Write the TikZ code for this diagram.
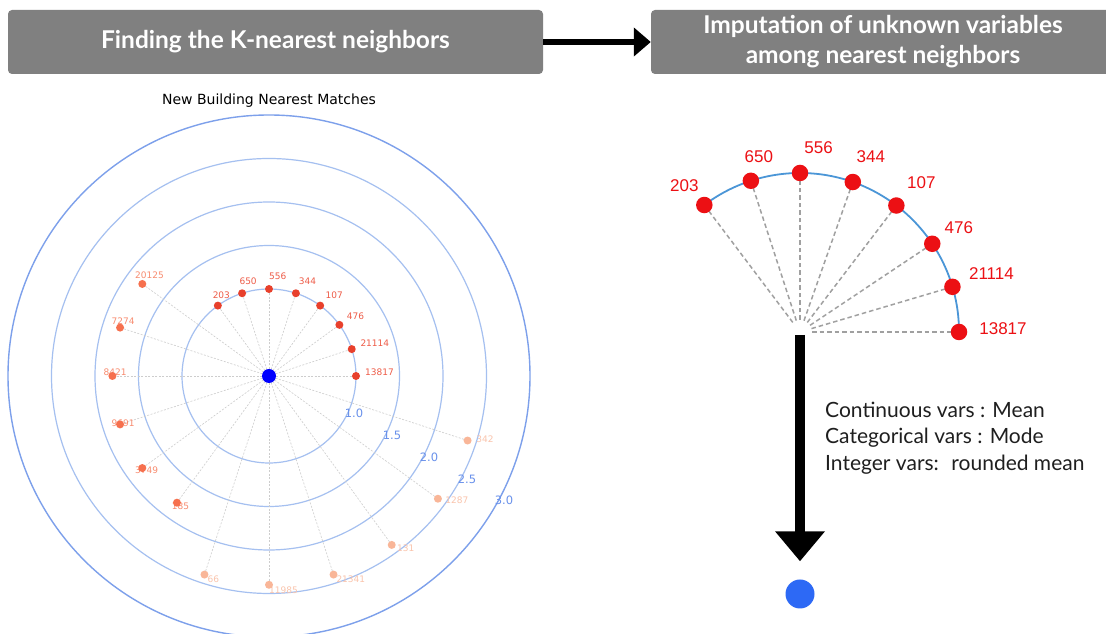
\documentclass[tikz,border=0pt]{standalone}
\usepackage{fontspec}
\newfontfamily\mplfont{DejaVu Sans}
\newfontfamily\uifont{Lato}
\newfontfamily\arialfont{Liberation Sans}
\usetikzlibrary{positioning, arrows.meta}

\definecolor{hdrgray}{RGB}{128,128,128}
\definecolor{ringblue}{RGB}{165,192,240}
\definecolor{spineblue}{RGB}{125,160,235}
\definecolor{rlabblue}{RGB}{105,145,235}
\definecolor{spokegray}{RGB}{205,205,205}
\definecolor{nearred}{RGB}{232,64,44}
\definecolor{nearlab}{RGB}{238,92,72}
\definecolor{midred}{RGB}{246,112,78}
\definecolor{midlab}{RGB}{248,140,112}
\definecolor{farred}{RGB}{249,182,152}
\definecolor{farlab}{RGB}{250,196,172}
\definecolor{kred}{RGB}{236,16,20}
\definecolor{arcblue}{RGB}{75,150,215}
\definecolor{dashgray}{RGB}{160,160,160}
\definecolor{newblue}{RGB}{45,105,245}

\begin{document}
\begin{tikzpicture}[
        x=1pt, y=1pt,
        header/.style={fill=hdrgray, rounded corners=4pt, text=white, align=center,
            font=\uifont\bfseries\fontsize{24.5}{30}\selectfont, minimum height=64pt, inner sep=0pt},
        ring/.style={draw=ringblue, line width=1.2pt},
        spoke/.style={draw=spokegray, line width=0.6pt, dash pattern=on 2pt off 1.5pt},
        pdot/.style={circle, fill=#1, minimum size=8pt, inner sep=0pt},
        plabel/.style={anchor=south west, inner sep=0pt, text=#1, font=\mplfont\fontsize{9}{10}\selectfont},
        kdot/.style={circle, fill=kred, minimum size=16.5pt, inner sep=0pt},
        klabel/.style={text=kred, font=\arialfont\fontsize{17}{20}\selectfont, inner sep=0pt},
        kspoke/.style={draw=dashgray, line width=1.5pt, dash pattern=on 4.5pt off 3pt, shorten <=12pt},
        hdrarrow/.style={-{Triangle[width=28pt,length=17pt]}, line width=5.5pt},
        bigarrow/.style={-{Triangle[width=48pt,length=30pt]}, line width=10pt, shorten <=3pt, shorten >=18pt}
    ]

    % Page
    \fill[white] (0,0) rectangle (1106,634);
    \useasboundingbox (0,0) rectangle (1106,634);

    % Header boxes
    \node[header, minimum width=535pt] (find) at (275.5,592) {Finding the K-nearest neighbors};
    \node[header, minimum width=464pt] (impute) at (883,592) {Imputation of unknown variables\\ among nearest neighbors};
    \draw[hdrarrow] (find.east) -- (impute.west);

    % Polar plot of the matches
    \node[font=\mplfont\fontsize{14}{16}\selectfont] (title) at (269,533) {New Building Nearest Matches};

    \begin{scope}[shift={(269,258)}]
        \coordinate (ctr) at (0,0);
        \foreach \v in {1.0,1.5,2.0,2.5}
            \draw[ring] (ctr) circle[radius=87*\v];
        \draw[draw=spineblue, line width=1.4pt] (ctr) circle[radius=261];

        % radial tick labels
        \foreach \v/\x/\y in {1.0/85/-37, 1.5/123/-59, 2.0/160/-81, 2.5/198/-103, 3.0/235/-124}
            \node[text=rlabblue, font=\mplfont\fontsize{11.5}{12}\selectfont] (tick\v) at (\x,\y) {\v};

        % neighbours: label / angle / distance / colour
        \foreach \n/\a/\r/\c in {13817/0/1.0/near, 21114/18/1.0/near, 476/36/1.0/near, 107/54/1.0/near,
                344/72/1.0/near, 556/90/1.0/near, 650/108/1.0/near, 203/126/1.0/near,
                20125/144/1.8/mid, 7274/162/1.8/mid, 8421/180/1.8/mid, 9691/198/1.8/mid,
                3749/216/1.8/mid, 185/234/1.8/mid, \phantom{0}66/252/2.4/far, 11985/270/2.4/far,
                21341/288/2.4/far, 131/306/2.4/far, 1287/324/2.4/far, 342/342/2.4/far} {
            \coordinate (q\a) at (\a:{87*\r});
            \draw[spoke] (ctr) -- (q\a);
            \path (q\a) ++(\a:9) node[plabel=\c lab] (lab\a) {\n};
            \node[pdot=\c red] (p\a) at (q\a) {};
        }
        \node[circle, fill=blue, minimum size=14pt, inner sep=0pt] (newbldg) at (ctr) {};
    \end{scope}

    % Nearest neighbours used for imputation
    \begin{scope}[shift={(800,302)}]
        \coordinate (hub) at (0,0);
        \draw[arcblue, line width=1.8pt] (0:159) arc[start angle=0, end angle=127, radius=159];
        \foreach \n/\a/\dx/\dy in {203/127/-20/19, 650/108/8/24, 556/90/18.6/25, 344/70.6/18/25,
                107/52.7/25/23, 476/33.7/26.6/16.6, 21114/16.5/39/13.3, 13817/0/44/3.3} {
            \draw[kspoke] (hub) -- (\a:159);
            \node[kdot] (k\n) at (\a:159) {};
            \path (k\n) ++(\dx,\dy) node[klabel] (kl\n) {\n};
        }
    \end{scope}

    % Imputed building
    \node[circle, fill=newblue, minimum size=29pt, inner sep=0pt] (newpt) at (800,40) {};
    \draw[bigarrow] (hub) -- (newpt);

    \node[anchor=west, align=left, inner sep=0pt, text=black!88, font=\uifont\fontsize{21}{26.7}\selectfont] (rules) at (825,196)
        {Continuous vars : Mean\\ Categorical vars : Mode\\ Integer vars:~ rounded mean};

\end{tikzpicture}
\end{document}
